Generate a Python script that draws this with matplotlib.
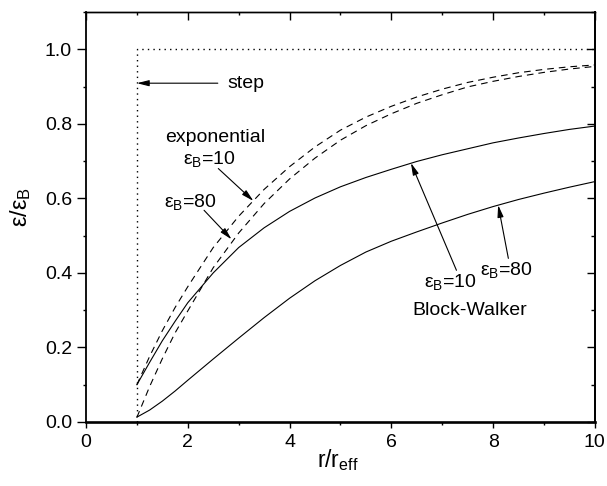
"""
Relative permittivity profiles eps/eps_B vs r/r_eff:
step, exponential and Block-Walker models.
"""
import matplotlib
matplotlib.use("Agg")
import matplotlib.pyplot as plt
from matplotlib.ticker import MultipleLocator, FormatStrFormatter

plt.rcParams['font.family'] = ['Liberation Sans', 'DejaVu Sans']
plt.rcParams['mathtext.fontset'] = 'custom'
plt.rcParams['mathtext.rm'] = 'Liberation Sans'
plt.rcParams['mathtext.it'] = 'Liberation Sans:italic'

# data
r = [1.0, 1.25, 1.5, 1.75, 2.0, 2.5, 3.0, 3.5, 4.0, 4.5, 5.0, 5.5,
     6.0, 6.5, 7.0, 7.5, 8.0, 8.5, 9.0, 9.5, 10.0]
exp_10 = [0.100, 0.176, 0.245, 0.307, 0.363, 0.468, 0.552, 0.624, 0.685, 0.738,
          0.783, 0.818, 0.847, 0.872, 0.893, 0.911, 0.925, 0.937, 0.946, 0.953,
          0.958]
exp_80 = [0.0125, 0.095, 0.170, 0.239, 0.298, 0.414, 0.507, 0.586, 0.652, 0.708,
          0.756, 0.795, 0.827, 0.855, 0.878, 0.899, 0.914, 0.927, 0.938, 0.947,
          0.954]
bw_10 = [0.100, 0.160, 0.218, 0.270, 0.320, 0.400, 0.468, 0.521, 0.565, 0.601,
         0.631, 0.656, 0.678, 0.699, 0.717, 0.733, 0.749, 0.762, 0.774, 0.785,
         0.794]
bw_80 = [0.013, 0.032, 0.056, 0.083, 0.112, 0.169, 0.225, 0.280, 0.332, 0.379,
         0.420, 0.456, 0.485, 0.510, 0.534, 0.557, 0.578, 0.597, 0.614, 0.630,
         0.645]
step_x = [1.0, 1.0, 10.0]
step_y = [0.0, 1.0, 1.0]

fig = plt.figure(figsize=(6.07, 4.86), dpi=100)
ax = fig.add_axes([0.1417, 0.1317, 0.8383, 0.8436])

lw = 0.8
ax.plot(step_x, step_y, color='k', lw=1.0, linestyle=(0, (1, 3)))
ax.plot(r, exp_10, color='k', lw=lw, linestyle=(0, (6, 4.5)))
ax.plot(r, exp_80, color='k', lw=lw, linestyle=(0, (6, 4.5)))
ax.plot(r, bw_10, color='k', lw=lw)
ax.plot(r, bw_80, color='k', lw=lw)

ax.set_xlim(0, 10)
ax.set_ylim(0, 1.1)
ax.xaxis.set_major_locator(MultipleLocator(2))
ax.xaxis.set_minor_locator(MultipleLocator(1))
ax.yaxis.set_major_locator(MultipleLocator(0.2))
ax.yaxis.set_minor_locator(MultipleLocator(0.1))
ax.yaxis.set_major_formatter(FormatStrFormatter('%.1f'))

# left / bottom ticks point out, labelled
ax.tick_params(which='both', direction='out', top=False, right=False,
               labelsize=14, color='k', width=1.0)
ax.tick_params(axis='y', which='major', length=6.5, pad=3.5)
ax.tick_params(axis='y', which='minor', length=2.2)
ax.tick_params(axis='x', which='major', length=4, pad=5)
ax.tick_params(axis='x', which='minor', length=2.5)

# top / right ticks point in, no labels
top = ax.secondary_xaxis('top')
top.xaxis.set_major_locator(MultipleLocator(2))
top.xaxis.set_minor_locator(MultipleLocator(1))
top.tick_params(which='both', direction='in', labeltop=False, width=1.0)
top.tick_params(which='major', length=5.5)
top.tick_params(which='minor', length=2.5)
top.spines['top'].set_linewidth(1.0)

right = ax.secondary_yaxis('right')
right.yaxis.set_major_locator(MultipleLocator(0.2))
right.yaxis.set_minor_locator(MultipleLocator(0.1))
right.tick_params(which='both', direction='in', labelright=False, width=1.0)
right.tick_params(which='major', length=5.5)
right.tick_params(which='minor', length=2.8)
right.spines['right'].set_linewidth(1.3)

ax.spines['bottom'].set_linewidth(1.9)
ax.spines['left'].set_linewidth(1.3)
ax.spines['right'].set_linewidth(1.3)
ax.spines['top'].set_linewidth(1.0)

ax.set_xlabel(r'r/r$_{\rm eff}$', fontsize=16.5)
ax.xaxis.set_label_coords(0.495, -0.062)
ax.set_ylabel(r'ε/ε$_{\rm B}$', fontsize=17)
ax.yaxis.set_label_coords(-0.104, 0.524)

arrow = dict(arrowstyle='-|>,head_length=0.6,head_width=0.15', color='k',
             lw=0.8, mutation_scale=12, shrinkA=0, shrinkB=0)
fs = 14

ax.text(2.77, 0.909, 'step', fontsize=fs, va='center', ha='left')
ax.annotate('', xy=(1.0, 0.909), xytext=(2.59, 0.909), arrowprops=arrow)

ax.text(1.55, 0.764, 'exponential', fontsize=fs, va='center', ha='left')
ax.text(1.91, 0.705, r'ε$_{\rm B}$=10', fontsize=fs, va='center', ha='left')
ax.annotate('', xy=(3.29, 0.593), xytext=(2.6, 0.68), arrowprops=arrow)
ax.text(1.53, 0.59, r'ε$_{\rm B}$=80', fontsize=fs, va='center', ha='left')
ax.annotate('', xy=(2.86, 0.49), xytext=(2.32, 0.568), arrowprops=arrow)

ax.text(6.64, 0.376, r'ε$_{\rm B}$=10', fontsize=fs, va='center', ha='left')
ax.annotate('', xy=(6.385, 0.695), xytext=(7.28, 0.407), arrowprops=arrow)
ax.text(7.74, 0.407, r'ε$_{\rm B}$=80', fontsize=fs, va='center', ha='left')
ax.annotate('', xy=(8.10, 0.582), xytext=(8.30, 0.439), arrowprops=arrow)
ax.text(7.54, 0.298, 'Block-Walker', fontsize=fs, va='center', ha='center')

fig.savefig('out.png', dpi=100)
